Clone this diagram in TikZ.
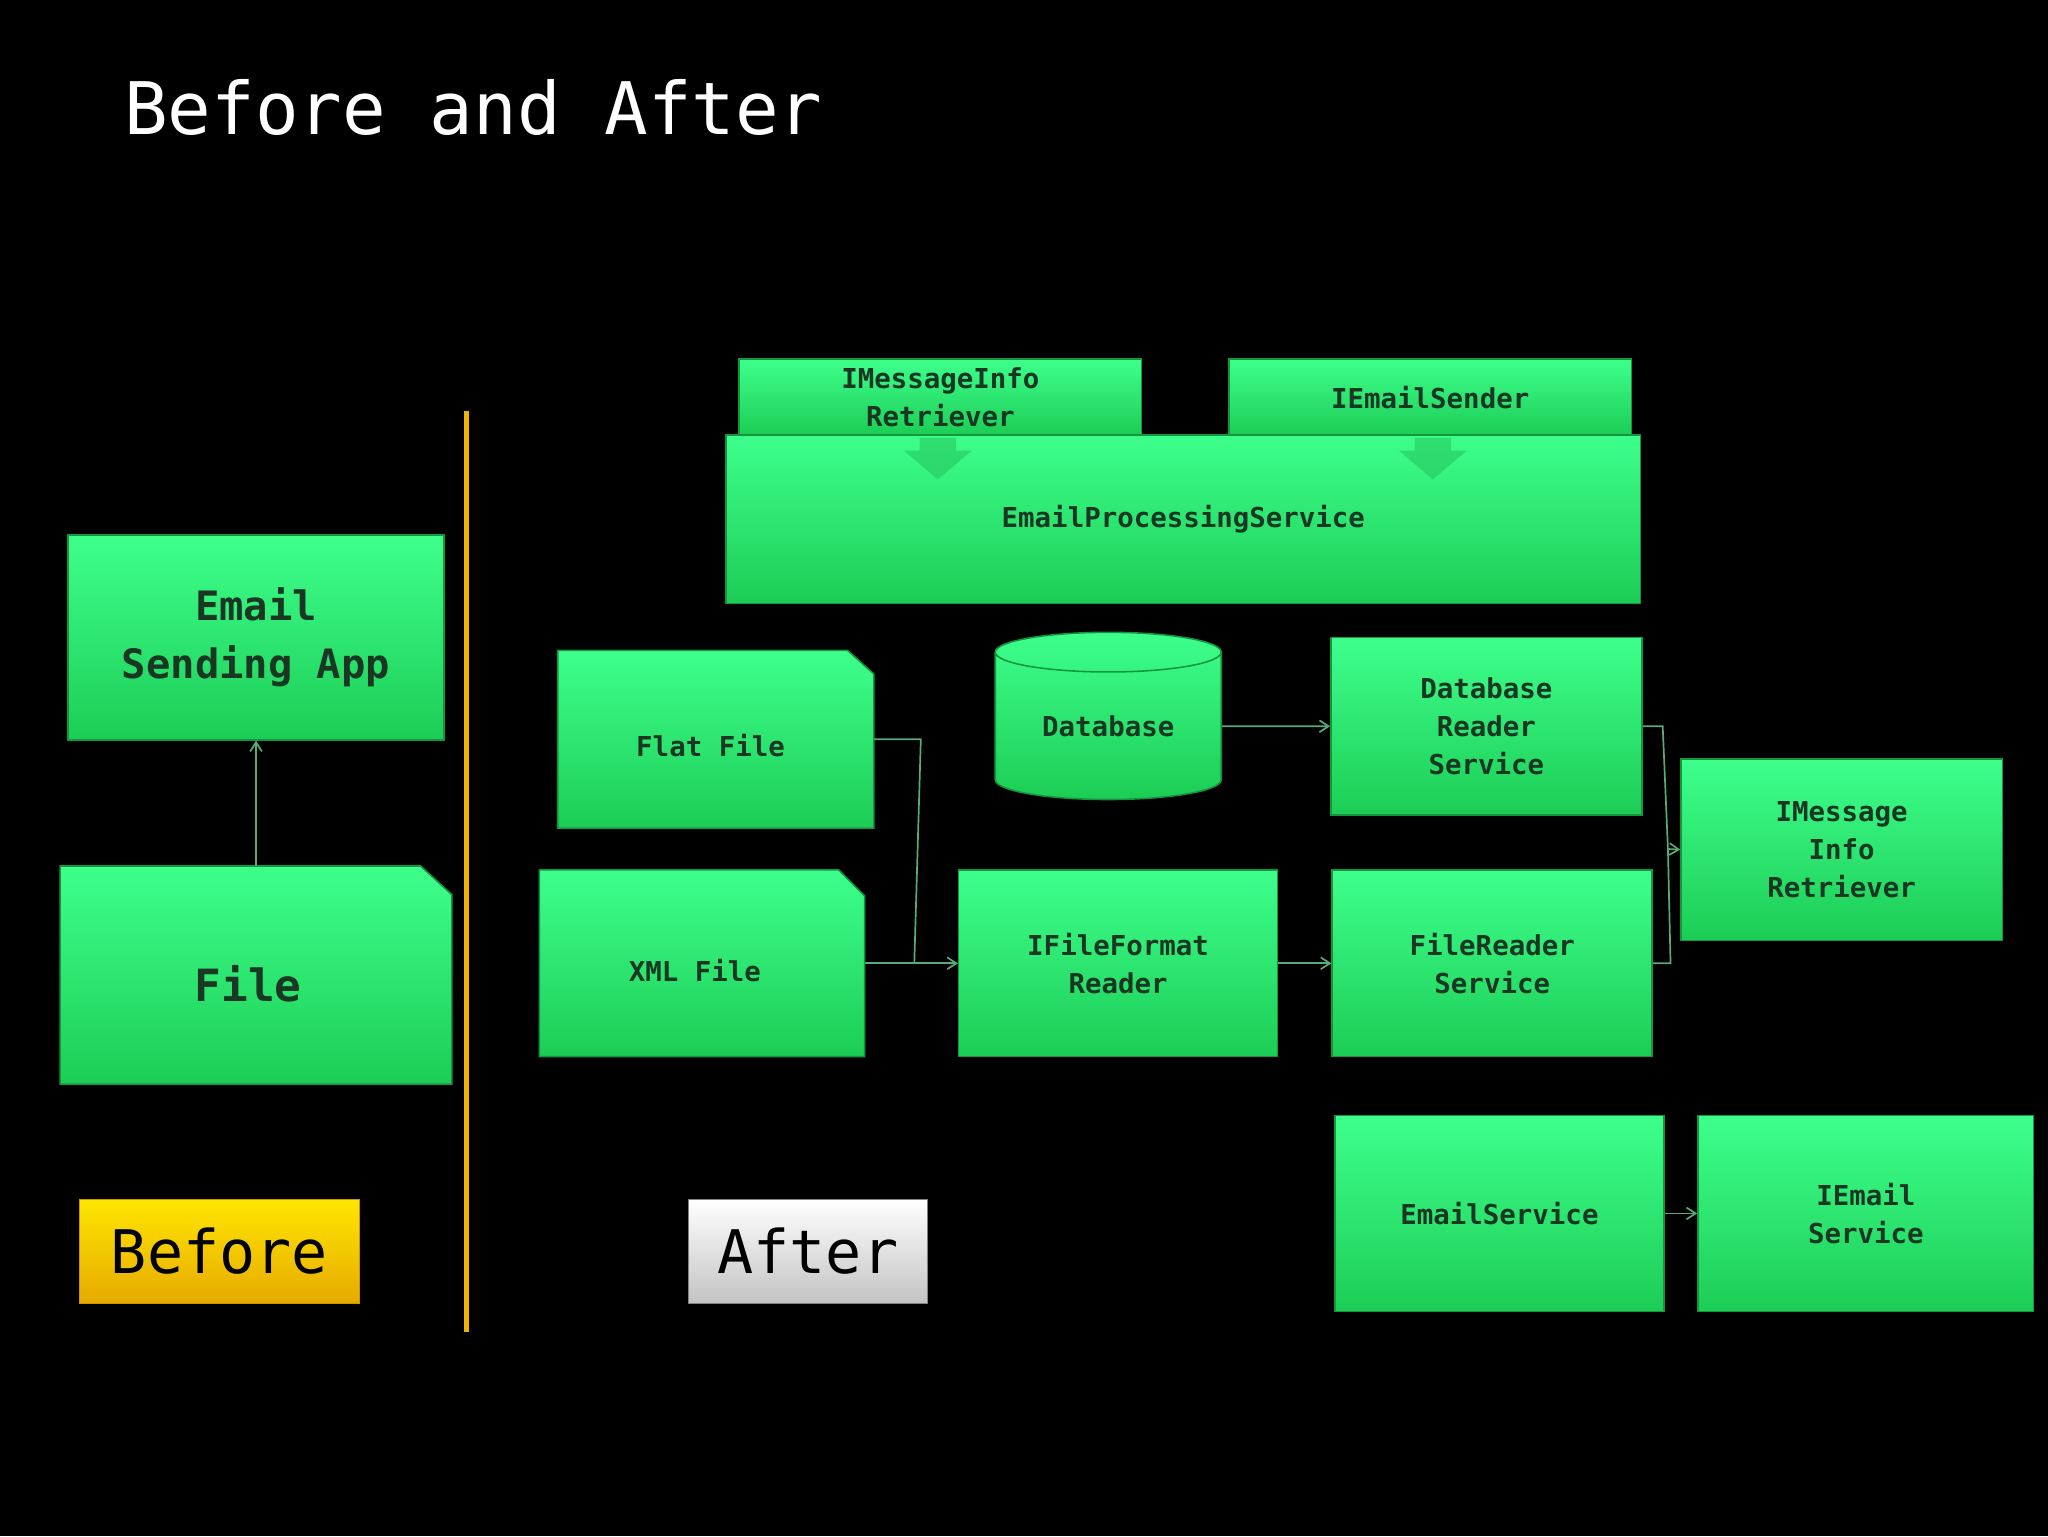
\documentclass[tikz,border=0pt]{standalone}
\usepackage{fontspec}
\setmonofont{DejaVu Sans Mono}
\usetikzlibrary{arrows.meta,shapes.geometric}
\definecolor{gtop}{RGB}{62,255,140}
\definecolor{gbot}{RGB}{28,205,85}
\definecolor{gedge}{RGB}{20,150,60}
\definecolor{gtxt}{RGB}{25,55,35}
\definecolor{conn}{RGB}{90,170,120}
\begin{document}
\begin{tikzpicture}[x=1pt,y=-1pt,
  gbox/.style={draw=gedge,line width=1.2pt,top color=gtop,bottom color=gbot,inner sep=0pt,align=center,text=gtxt,font=\ttfamily\bfseries\fontsize{21}{29}\selectfont},
  gtext/.style={inner sep=0pt,align=center,text=gtxt,font=\ttfamily\bfseries\fontsize{21}{29}\selectfont},
  gshape/.style={draw=gedge,line width=1.2pt,top color=gtop,bottom color=gbot},
  cn/.style={draw=conn,line width=1.3pt,-{Straight Barb[length=7pt,width=9pt]}},
  cl/.style={draw=conn,line width=1.3pt}]
\fill[black] (0,0) rectangle (1568,1176);
\useasboundingbox (0,0) rectangle (1568,1176);
\node[anchor=base west,text=white,font=\ttfamily\fontsize{55.5}{60}\selectfont,inner sep=0pt] (title) at (95,103) {Before and After};
% Before
\node[gbox,minimum width=288,minimum height=157,font=\ttfamily\bfseries\fontsize{31}{44}\selectfont] (app) at (196,488) {Email\\Sending App};
\path[gshape] (46,663)--(322,663)--(346,685)--(346,830)--(46,830)--cycle;
\node[gtext,minimum width=300,minimum height=167,font=\ttfamily\bfseries\fontsize{34}{40}\selectfont] (file) at (190,753) {File};
\draw[cn] (196,663) -- (app.south);
\draw[draw={rgb,255:red,240;green,180;blue,0},line width=4pt] (357,315) -- (357,1020);
\node[draw={rgb,255:red,200;green,150;blue,0},top color={rgb,255:red,255;green,230;blue,0},bottom color={rgb,255:red,230;green,170;blue,0},minimum width=214,minimum height=80,inner sep=0pt,font=\ttfamily\fontsize{46}{50}\selectfont] (before) at (168,958) {Before};
\node[draw=gray,top color=white,bottom color={rgb,255:red,195;green,195;blue,195},minimum width=183,minimum height=80,inner sep=0pt,font=\ttfamily\fontsize{46}{50}\selectfont] (after) at (618.5,958) {After};
% After top
\node[gbox,minimum width=700,minimum height=129] (eps) at (906,397.5) {EmailProcessingService};
\node[gbox,minimum width=308,minimum height=58] (imir) at (720,304) {IMessageInfo\\Retriever};
\node[gbox,minimum width=308,minimum height=58] (ies) at (1095,304) {IEmailSender};
\foreach \xx in {718,1097}{
 \fill[gbot!80!black,opacity=0.35] (\xx-14,335)--(\xx+14,335)--(\xx+14,345)--(\xx+26,345)--(\xx,367)--(\xx-26,345)--(\xx-14,345)--cycle;}
% files
\path[gshape] (427,498)--(649,498)--(669,516)--(669,634)--(427,634)--cycle;
\node[gtext,minimum width=242,minimum height=136] (flat) at (544,571) {Flat File};
\path[gshape] (413,666)--(642,666)--(662,686)--(662,809)--(413,809)--cycle;
\node[gtext,minimum width=249,minimum height=143] (xml) at (532,743) {XML File};
\node[cylinder,shape border rotate=90,aspect=0.3,draw=gedge,line width=1.2pt,top color=gtop,bottom color=gbot,minimum width=173,minimum height=128,inner sep=0pt,text=gtxt,font=\ttfamily\bfseries\fontsize{21}{29}\selectfont] (db) at (848.5,556) {Database};
\node[gbox,minimum width=238,minimum height=136] (dbr) at (1138,556) {Database\\Reader\\Service};
\node[gbox,minimum width=244,minimum height=143] (iff) at (856,737.5) {IFileFormat\\Reader};
\node[gbox,minimum width=245,minimum height=143] (frs) at (1142.5,737.5) {FileReader\\Service};
\node[gbox,minimum width=246,minimum height=139] (imi) at (1410,650.5) {IMessage\\Info\\Retriever};
\node[gbox,minimum width=252,minimum height=150] (es) at (1148,929) {EmailService};
\node[gbox,minimum width=257,minimum height=150] (iem) at (1428.5,929) {IEmail\\Service};
% connectors
\coordinate (j1) at (1277,650);
\draw[cl] (669,566) -- (705,566) -- (700,737.5);
\draw[cn] (662,737.5) -- (iff.west);
\draw[cn] (db.east) -- (dbr.west);
\draw[cn] (iff.east) -- (frs.west);
\draw[cl] (dbr.east) -- (1273,556) -- (j1);
\draw[cl] (frs.east) -- (1279,737.5) -- (j1);
\draw[cn] (j1) -- (imi.west);
\draw[cn] (es.east) -- (iem.west);
\end{tikzpicture}
\end{document}
